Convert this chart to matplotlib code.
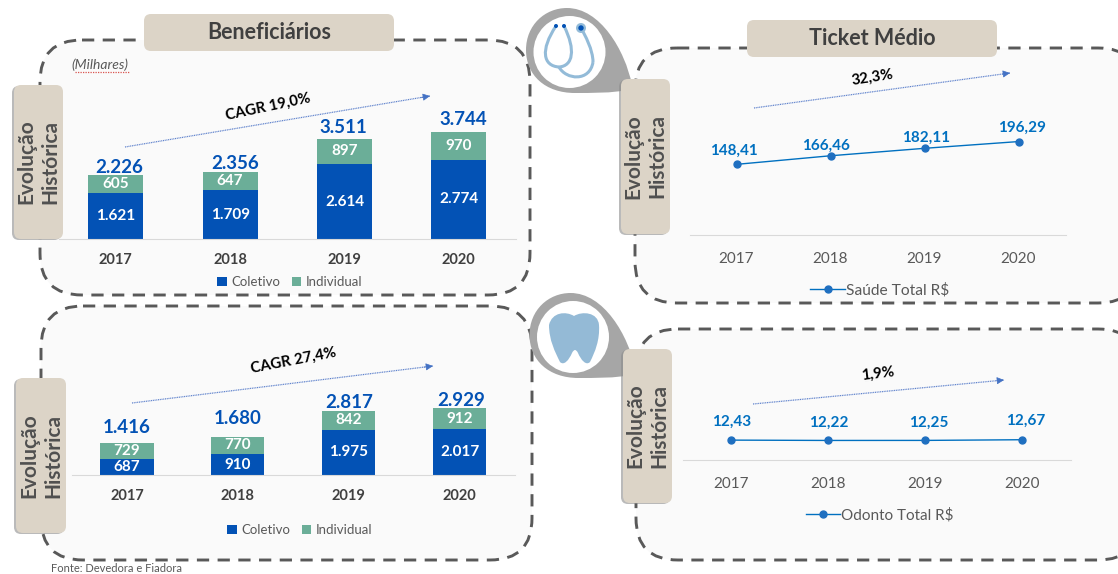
import matplotlib.pyplot as plt
from matplotlib.patches import FancyBboxPatch, Circle, PathPatch
from matplotlib.path import Path

plt.rcParams['font.family'] = ['Lato', 'DejaVu Sans']

# Dados
anos = ['2017', '2018', '2019', '2020']
benef_saude_coletivo = [1621, 1709, 2614, 2774]
benef_saude_individual = [605, 647, 897, 970]
benef_saude_total = [2226, 2356, 3511, 3744]
benef_odonto_coletivo = [687, 910, 1975, 2017]
benef_odonto_individual = [729, 770, 842, 912]
benef_odonto_total = [1416, 1680, 2817, 2929]
ticket_saude = [148.41, 166.46, 182.11, 196.29]
ticket_odonto = [12.43, 12.22, 12.25, 12.67]

W, H = 1118, 574
AZUL = '#0352B5'
VERDE = '#6BAE98'
AZUL_LINHA = '#0070C0'
BEGE = '#DCD4C7'
CINZA = '#404040'

fig = plt.figure(figsize=(W / 100, H / 100), dpi=100, facecolor='white')


def eixo_px(esq, topo, dir, base, zorder):
    ax = fig.add_axes([esq / W, 1 - base / H, (dir - esq) / W, (base - topo) / H], zorder=zorder)
    ax.patch.set_alpha(0)
    return ax


# Camada de fundo (caixas tracejadas) e camada da frente (etiquetas, ícones), em pixels
fundo = eixo_px(0, 0, W, H, 1)
frente = eixo_px(0, 0, W, H, 3)
for a in (fundo, frente):
    a.set_xlim(0, W)
    a.set_ylim(H, 0)
    a.axis('off')


def caixa_tracejada(x0, y0, x1, y1):
    fundo.add_patch(FancyBboxPatch((x0, y0), x1 - x0, y1 - y0, boxstyle='round,pad=0,rounding_size=42',
                                   fc='#FAFAFA', ec='#595959', lw=2.1, ls=(0, (4.2, 2.9)), clip_on=True))


def etiqueta(x0, y0, x1, y1, texto, fs, rot=0, sombra=False):
    if sombra:
        frente.add_patch(FancyBboxPatch((x0 - 2, y0 + 1), x1 - x0, y1 - y0, boxstyle='round,pad=0,rounding_size=7',
                                        fc='#8C8C8C', ec='none', alpha=0.6))
    frente.add_patch(FancyBboxPatch((x0, y0), x1 - x0, y1 - y0, boxstyle='round,pad=0,rounding_size=7',
                                    fc=BEGE, ec='none'))
    frente.text((x0 + x1) / 2, (y0 + y1) / 2, texto, ha='center', va='center', rotation=rot, fontsize=fs,
                fontweight='bold', color='#505050' if rot else CINZA, linespacing=1.25 if rot else 1.0)


def seta(x0, y0, x1, y1, texto, tx, ty, rot):
    frente.plot([x0, x1], [y0, y1], color='#5B7FCB', lw=0.9, ls=(0, (0.8, 0.6)))
    # ponta da seta
    frente.annotate('', xy=(x1, y1), xytext=(x1 - (x1 - x0) * 0.03, y1 - (y1 - y0) * 0.03),
                    arrowprops=dict(arrowstyle='-|>', color='#4472C4', lw=0.5, mutation_scale=11, shrinkA=0, shrinkB=0))
    frente.text(tx, ty, texto, ha='center', va='center', rotation=rot, fontsize=10.8, fontweight='bold', color='black')


def gota(dx, dy):
    pts = [(526, 50), (526, 25), (545, 8), (567, 8), (600, 8), (625, 50), (632, 85), (632, 92), (610, 93), (575, 93),
           (545, 93), (526, 75), (526, 50)]
    cods = [Path.MOVETO] + [Path.CURVE4] * 12
    frente.add_patch(PathPatch(Path([(x + dx, y + dy) for x, y in pts], cods), fc='#A6A6A6', ec='none'))
    frente.add_patch(Circle((569.5 + dx, 52 + dy), 36, fc='white', ec='none'))


def barras(esq, dir, base, topo, escala, coletivo, individual, total, larg, offs, dx_total, legenda):
    ax = eixo_px(esq, topo, dir, base, 2)
    xs = range(len(anos))
    b1 = ax.bar(xs, coletivo, width=larg, color=AZUL, label='Coletivo')
    b2 = ax.bar(xs, individual, width=larg, bottom=coletivo, color=VERDE, label='Individual')
    fmt = lambda v: f'{int(v):,}'.replace(',', '.')
    ax.bar_label(b1, labels=[fmt(v) for v in coletivo], label_type='center', color='white', fontweight='bold', fontsize=11)
    ax.bar_label(b2, labels=[fmt(v) for v in individual], label_type='center', color='white', fontweight='bold', fontsize=11)
    for i, v in enumerate(total):
        ax.annotate(fmt(v), (i, coletivo[i] + individual[i]), xytext=(dx_total[i] * 0.72, offs[i] * 0.72),
                    textcoords='offset points', ha='center', va='center', color=AZUL, fontweight='bold', fontsize=13.5)
    ax.set_xlim(-0.5, 3.5)
    ax.set_ylim(0, (base - topo) / escala)
    ax.set_xticks(list(xs), anos, fontweight='bold', fontsize=10.5, color=CINZA)
    ax.tick_params(axis='x', length=0, pad=10)
    ax.set_yticks([])
    for lado in ('top', 'left', 'right'):
        ax.spines[lado].set_visible(False)
    ax.spines['bottom'].set_color('#D9D9D9')
    ax.legend(loc='center', ncol=2, frameon=False, bbox_to_anchor=(legenda[0] / W, 1 - legenda[1] / H),
              bbox_transform=fig.transFigure, fontsize=9.5, labelcolor='#595959', handlelength=0.7, handleheight=0.7,
              handletextpad=0.35, columnspacing=0.9)


def linha(esq, dir, base, topo, escala, valores, nome, offs, legenda, fs_leg):
    ax = eixo_px(esq, topo, dir, base, 2)
    xs = range(len(anos))
    ax.plot(xs, valores, color=AZUL_LINHA, lw=1.0, marker='o', ms=5, mfc='#1F6FC0', mec='#1F6FC0', label=nome)
    for i, v in enumerate(valores):
        ax.annotate(f'{v:.2f}'.replace('.', ','), (i, v), xytext=(offs[i][0] * 0.72, offs[i][1] * 0.72),
                    textcoords='offset points', ha='center', va='center', color=AZUL_LINHA, fontweight='bold', fontsize=11)
    ax.set_xlim(-0.5, 3.5)
    ax.set_ylim(0, (base - topo) / escala)
    ax.set_xticks(list(xs), anos, fontsize=11, color='#595959')
    ax.tick_params(axis='x', length=0, pad=12.5)
    ax.set_yticks([])
    for lado in ('top', 'left', 'right'):
        ax.spines[lado].set_visible(False)
    ax.spines['bottom'].set_color('#D9D9D9')
    ax.legend(loc='center', frameon=False, bbox_to_anchor=(legenda[0] / W, 1 - legenda[1] / H),
              bbox_transform=fig.transFigure, fontsize=fs_leg, labelcolor='#595959', handlelength=2.2, handletextpad=0.1)


# Caixas tracejadas
caixa_tracejada(40, 40, 530, 295)
caixa_tracejada(41, 306, 532, 560)
caixa_tracejada(635, 48, 1140, 303)
caixa_tracejada(636, 329, 1140, 560)

# Gráficos
barras(58.5, 516, 239, 100, 0.0286, benef_saude_coletivo, benef_saude_individual, benef_saude_total, 0.48,
       [8, 8, 11, 12], [3, 5, -1, 4], (290, 282))
barras(71.5, 515, 475, 350, 0.0228, benef_odonto_coletivo, benef_odonto_individual, benef_odonto_total, 0.48,
       [15, 18, 8, 8], [0, 0, 0, 2], (300, 530))
linha(689.5, 1065.5, 235, 100, 0.476, ticket_saude, 'Saúde Total R$', [(-3, 14), (-5, 10), (2, 11), (3, 14)],
      (880, 290), 11.2)
linha(682.5, 1071, 460, 395, 1.6, ticket_odonto, 'Odonto Total R$', [(1, 18), (1, 18), (3, 18), (3, 19)],
      (880, 515), 11)

# Ícones
gota(0, 0)
for x0, y0, x1, y1, x2, y2, x3, y3 in [(556, 26, 540, 50, 543, 66, 559, 67),
                                       (559, 67, 573, 66, 576, 50, 564, 26),
                                       (559, 67, 566, 80, 590, 82, 593, 62),
                                       (593, 62, 593, 50, 585, 35, 581, 28)]:
    frente.add_patch(PathPatch(Path([(x0, y0), (x1, y1), (x2, y2), (x3, y3)],
                                    [Path.MOVETO, Path.CURVE4, Path.CURVE4, Path.CURVE4]),
                               fc='none', ec='#93BBD8', lw=2.2))
frente.add_patch(Circle((581, 28), 5, fc='#93BBD8', ec='none'))
frente.add_patch(Circle((581, 28), 2.7, fc=AZUL, ec='none'))
frente.add_patch(Circle((556, 26), 2, fc=AZUL, ec='none'))
frente.add_patch(Circle((564, 26), 2, fc=AZUL, ec='none'))

gota(3.5, 285)
dente = [(574, 316), (566, 311), (552, 312), (549, 325), (549, 340), (555, 352), (560, 362), (564, 366), (569, 360),
         (572, 353), (574, 349), (576, 349), (578, 353), (581, 360), (586, 366), (590, 362), (595, 352), (600, 340),
         (599, 325), (598, 312), (582, 311), (574, 316)]
frente.add_patch(PathPatch(Path(dente, [Path.MOVETO] + [Path.CURVE4] * 21), fc='#94BAD6', ec='none'))

# Títulos e etiquetas
etiqueta(144, 14, 394, 51, 'Beneficiários', 15.5)
etiqueta(747, 20, 997, 57, 'Ticket Médio', 15.5)
etiqueta(14, 85, 63, 239, 'Evolução\nHistórica', 15, 90, True)
etiqueta(16, 378, 66, 533, 'Evolução\nHistórica', 15, 90, True)
etiqueta(621, 79, 670, 234, 'Evolução\nHistórica', 15, 90, True)
etiqueta(623, 349, 672, 503, 'Evolução\nHistórica', 15, 90, True)

# Setas de crescimento
seta(125, 147, 430, 96, 'CAGR 19,0%', 268, 107, 12)
seta(132, 403, 433, 366, 'CAGR 27,4%', 293, 361, 11)
seta(754, 108, 1010, 73, '32,3%', 872, 78, 9)
seta(753, 404, 1004, 380, '1,9%', 878, 374, 7)

# Notas
frente.text(71, 65, '(Milhares)', fontsize=10, style='italic', color='#595959', va='center')
frente.plot([75, 129], [72, 72], color='#D9534F', lw=0.9, ls=(0, (1, 1)))
frente.text(51, 569, 'Fonte: Devedora e Fiadora', fontsize=8, color='#595959', va='center')

fig.savefig('out.png', dpi=100)
